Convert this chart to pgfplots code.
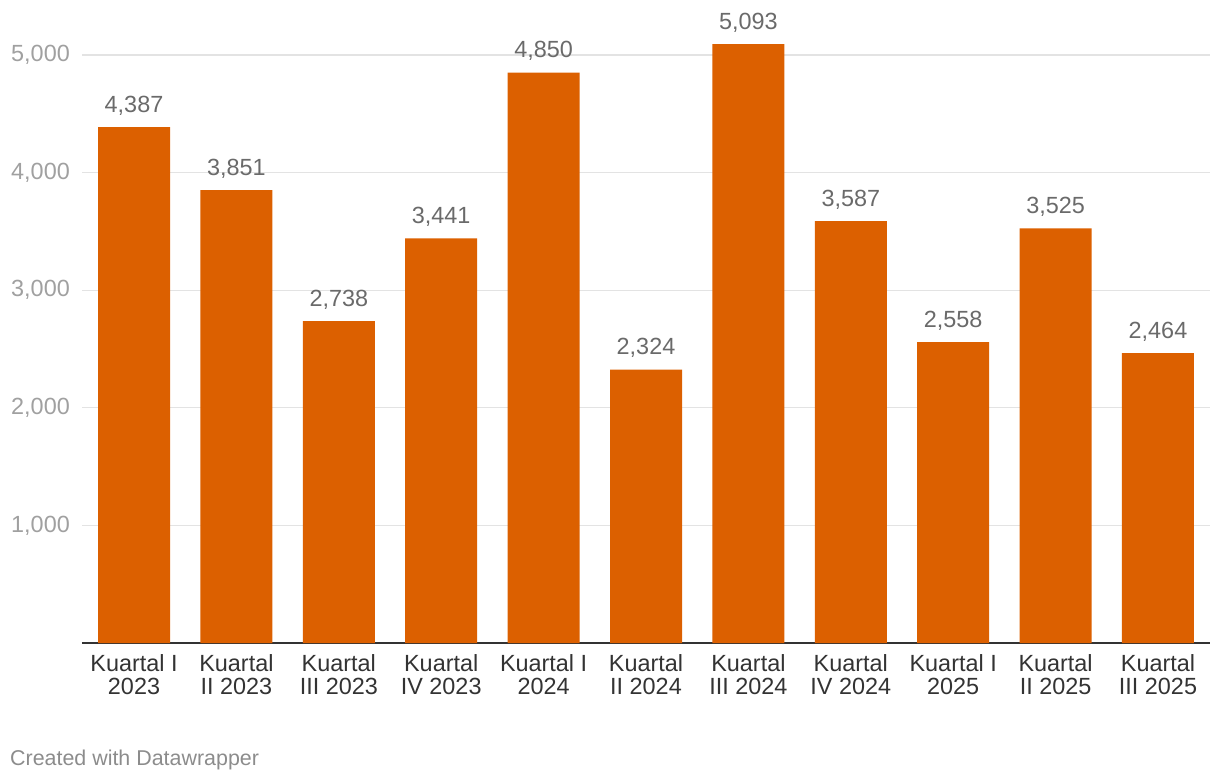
\documentclass[border=0pt]{standalone}
\usepackage{pgfplots}
\pgfplotsset{compat=1.18}
\usepackage{fontspec}
\setmainfont{Liberation Sans}
\definecolor{barorange}{HTML}{DC6000}
\definecolor{ticktxt}{HTML}{A0A0A0}
\definecolor{valtxt}{HTML}{6A6A6A}
\definecolor{labtxt}{HTML}{333333}
\definecolor{gridc}{HTML}{E3E3E3}
\begin{document}
\begin{tikzpicture}
\useasboundingbox (-82bp,-137bp) rectangle (1138bp,643bp);
\begin{axis}[
    scale only axis,
    width=1128bp, height=635.04bp,
    xmin=-0.508, xmax=10.508,
    ymin=0, ymax=5400,
    clip=false,
    ybar, bar width=72bp,
    axis line style={draw=none},
    major tick length=0pt,
    ymajorgrids,
    grid style={gridc, line width=1.2bp},
    ytick={1000,2000,3000,4000,5000},
    scaled y ticks=false,
    /pgf/number format/assume math mode=true,
    /pgf/number format/1000 sep={,},
    yticklabel style={font=\fontsize{23.5}{25}\selectfont, text=ticktxt, anchor=east, inner sep=0pt, xshift=-12bp},
    xtick=data,
    xticklabels={{Kuartal I\\2023},{Kuartal\\II 2023},{Kuartal\\III 2023},{Kuartal\\IV 2023},{Kuartal I\\2024},{Kuartal\\II 2024},{Kuartal\\III 2024},{Kuartal\\IV 2024},{Kuartal I\\2025},{Kuartal\\II 2025},{Kuartal\\III 2025}},
    xticklabel style={font=\fontsize{23.5}{23.5}\selectfont, text=labtxt, align=center, anchor=north, inner sep=0pt, yshift=-11bp},
    extra y ticks={0},
    extra y tick labels={},
    extra y tick style={grid style={labtxt, line width=2.2bp}},
    nodes near coords,
    every node near coord/.append style={font=\fontsize{23.5}{25}\selectfont, text=valtxt, anchor=base, inner sep=0pt, yshift=15bp},
]
\addplot[fill=barorange, draw=none] coordinates {
(0,4387) (1,3851) (2,2738) (3,3441) (4,4850) (5,2324)
(6,5093) (7,3587) (8,2558) (9,3525) (10,2464)
};
\end{axis}
\node[anchor=base west, inner sep=0pt, text=gray!90, font=\fontsize{21.5}{24}\selectfont] at (-72bp,-122bp) {Created with Datawrapper};
\end{tikzpicture}
\end{document}
